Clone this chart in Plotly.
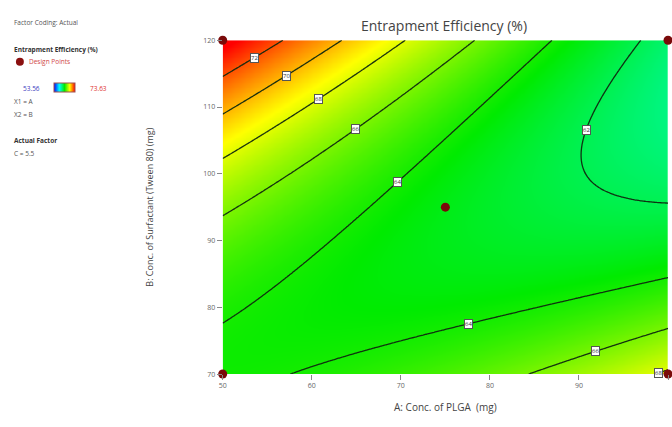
import numpy as np
import plotly.graph_objects as go

W, H = 672, 427
# plot area in pixels
PL, PR, PT, PB = 220, 668, 36, 377

# Factor ranges (actual units)
a_range = [50, 100]          # A: Conc. of PLGA (mg)
b_range = [70, 120]          # B: Conc. of Surfactant (Tween 80) (mg)
x_ticks = [50, 60, 70, 80, 90, 100]
y_ticks = [70, 80, 90, 100, 110, 120]

# Quadratic model in coded factors (C held at 5.5)
# terms: intercept, A, B, AB, A^2, B^2
coef_names = ["b0", "A", "B", "AB", "A2", "B2"]
coef_values = [63.17, -2.09, 0.89, -4.28, 1.00, 2.76]

# Response range shown on the colour key
resp_min, resp_max = 53.56, 73.63

# Contour levels
levels = [62, 64, 66, 68, 70, 72]

# Design points (A, B)
design_a = [50, 50, 100, 100, 75]
design_b = [70, 120, 70, 120, 95]

# Contour label anchors (A, B), snapped onto their contour below
label_levels = [72, 70, 68, 66, 64, 62, 64, 66, 68]
label_a = [53.4, 56.9, 60.4, 64.5, 69.0, 90.4, 77.3, 91.5, 98.5]
label_b = [117.6, 115.0, 111.6, 107.2, 99.2, 106.7, 78.4, 74.3, 71.0]

cf = dict(zip(coef_names, coef_values))


def coded(v, rng):
    return (np.asarray(v, dtype=float) - (rng[0] + rng[1]) / 2) / ((rng[1] - rng[0]) / 2)


def model(a, b):
    x, y = coded(a, a_range), coded(b, b_range)
    return (cf["b0"] + cf["A"] * x + cf["B"] * y + cf["AB"] * x * y
            + cf["A2"] * x ** 2 + cf["B2"] * y ** 2)


ga = np.linspace(a_range[0], a_range[1], 201)
gb = np.linspace(b_range[0], b_range[1], 201)
AA, BB = np.meshgrid(ga, gb)
Z = model(AA, BB)


def snap(a, b, lvl):
    # Newton steps along the gradient onto the contour f = lvl
    for _ in range(20):
        f = model(a, b) - lvl
        h = 1e-3
        da = (model(a + h, b) - model(a - h, b)) / (2 * h)
        db = (model(a, b + h) - model(a, b - h)) / (2 * h)
        g2 = da * da + db * db
        a, b = a - f * da / g2, b - f * db / g2
    return float(a), float(b)


colorscale = [
    [0.0, "rgb(0,0,255)"],
    [0.25, "rgb(0,255,255)"],
    [0.5, "rgb(0,235,0)"],
    [0.75, "rgb(255,255,0)"],
    [1.0, "rgb(255,0,0)"],
]

# legend colour-key position (pixels)
KX0, KX1, KY = 40, 81, 85

fig = go.Figure()
# smooth colour fill of the response surface
fig.add_trace(go.Heatmap(
    x=ga, y=gb, z=Z, zsmooth="best",
    zauto=False, zmin=resp_min, zmax=resp_max,
    colorscale=colorscale,
    showscale=True,
    colorbar=dict(
        orientation="h", thickness=9, thicknessmode="pixels",
        len=KX1 - KX0, lenmode="pixels",
        x=(KX0 + KX1) / 2 / W, xanchor="center",
        y=1 - KY / H, yanchor="middle",
        showticklabels=False, ticks="", outlinewidth=1,
        outlinecolor="#a05050",
    ),
    hoverinfo="skip",
))
# contour lines
fig.add_trace(go.Contour(
    x=ga, y=gb, z=Z,
    contours=dict(start=levels[0], end=levels[-1], size=2, coloring="none"),
    line=dict(color="rgba(15,40,15,0.95)", width=1.3),
    showscale=False,
    hoverinfo="skip",
))

fig.add_trace(go.Scatter(
    x=design_a, y=design_b, mode="markers",
    marker=dict(size=9, color="#7a0a0a", line=dict(width=0)),
    cliponaxis=False, showlegend=False, hoverinfo="skip",
))

annotations = []
for lvl, a0, b0 in zip(label_levels, label_a, label_b):
    a, b = snap(a0, b0, lvl)
    annotations.append(dict(
        x=a, y=b, xref="x", yref="y", text=str(lvl), showarrow=False,
        font=dict(size=6, color="#333", family="Open Sans"),
        bgcolor="white", bordercolor="#555", borderwidth=1, borderpad=0,
    ))


def px(xp, yp):
    return xp / W, 1 - yp / H


def side_text(xp, yp, text, size=6.5, color="#555", bold=False, anchor="left"):
    x, y = px(xp, yp)
    annotations.append(dict(
        x=x, y=y, xref="paper", yref="paper", xanchor=anchor, yanchor="middle",
        text=f"<b>{text}</b>" if bold else text, showarrow=False,
        font=dict(size=size, color=color, family="Open Sans"),
    ))


side_text(8, 18, "Factor Coding: Actual")
side_text(8, 45, "Entrapment Efficiency (%)", color="#333", bold=True)
side_text(23, 58, "Design Points", color="#d04848")
side_text(KX0 - 2, KY, f"{resp_min:.2f}", color="#4040c0", anchor="right")
side_text(KX1 + 3, KY, f"{resp_max:.2f}", color="#e03030")
side_text(8, 99, "X1 = A")
side_text(8, 112, "X2 = B")
side_text(8, 138, "<b>Actual Factor</b>", color="#333")
side_text(8, 152, "C = 5.5")

fig.add_shape(type="circle", xref="paper", yref="paper",
              x0=12 / W, x1=20 / W, y0=1 - 62 / H, y1=1 - 54 / H,
              fillcolor="#8a1010", line=dict(width=0))

tick_font = dict(size=7, color="#666", family="Open Sans")
fig.update_layout(
    width=W, height=H,
    margin=dict(l=0, r=0, t=0, b=0),
    paper_bgcolor="white", plot_bgcolor="white",
    title=dict(text="Entrapment Efficiency (%)", x=(PL + PR) / 2 / W, xanchor="center",
               y=1 - 26 / H, yanchor="middle",
               font=dict(size=14, color="#444", family="Open Sans")),
    xaxis=dict(domain=[PL / W, PR / W], range=a_range, tickvals=x_ticks,
               ticks="outside", ticklen=5, tickcolor="#888", tickfont=tick_font,
               showgrid=False, zeroline=False, showline=False,
               title=dict(text="A: Conc. of PLGA  (mg)", standoff=14,
                          font=dict(size=10, color="#444", family="Open Sans"))),
    yaxis=dict(domain=[1 - PB / H, 1 - PT / H], range=b_range, tickvals=y_ticks,
               ticks="outside", ticklen=5, tickcolor="#888", tickfont=tick_font,
               showgrid=False, zeroline=False, showline=False,
               title=dict(text="B: Conc. of Surfactant (Tween 80) (mg)", standoff=48,
                          font=dict(size=9, color="#444", family="Open Sans"))),
    annotations=annotations,
    showlegend=False,
)

fig.write_html("out.html")
